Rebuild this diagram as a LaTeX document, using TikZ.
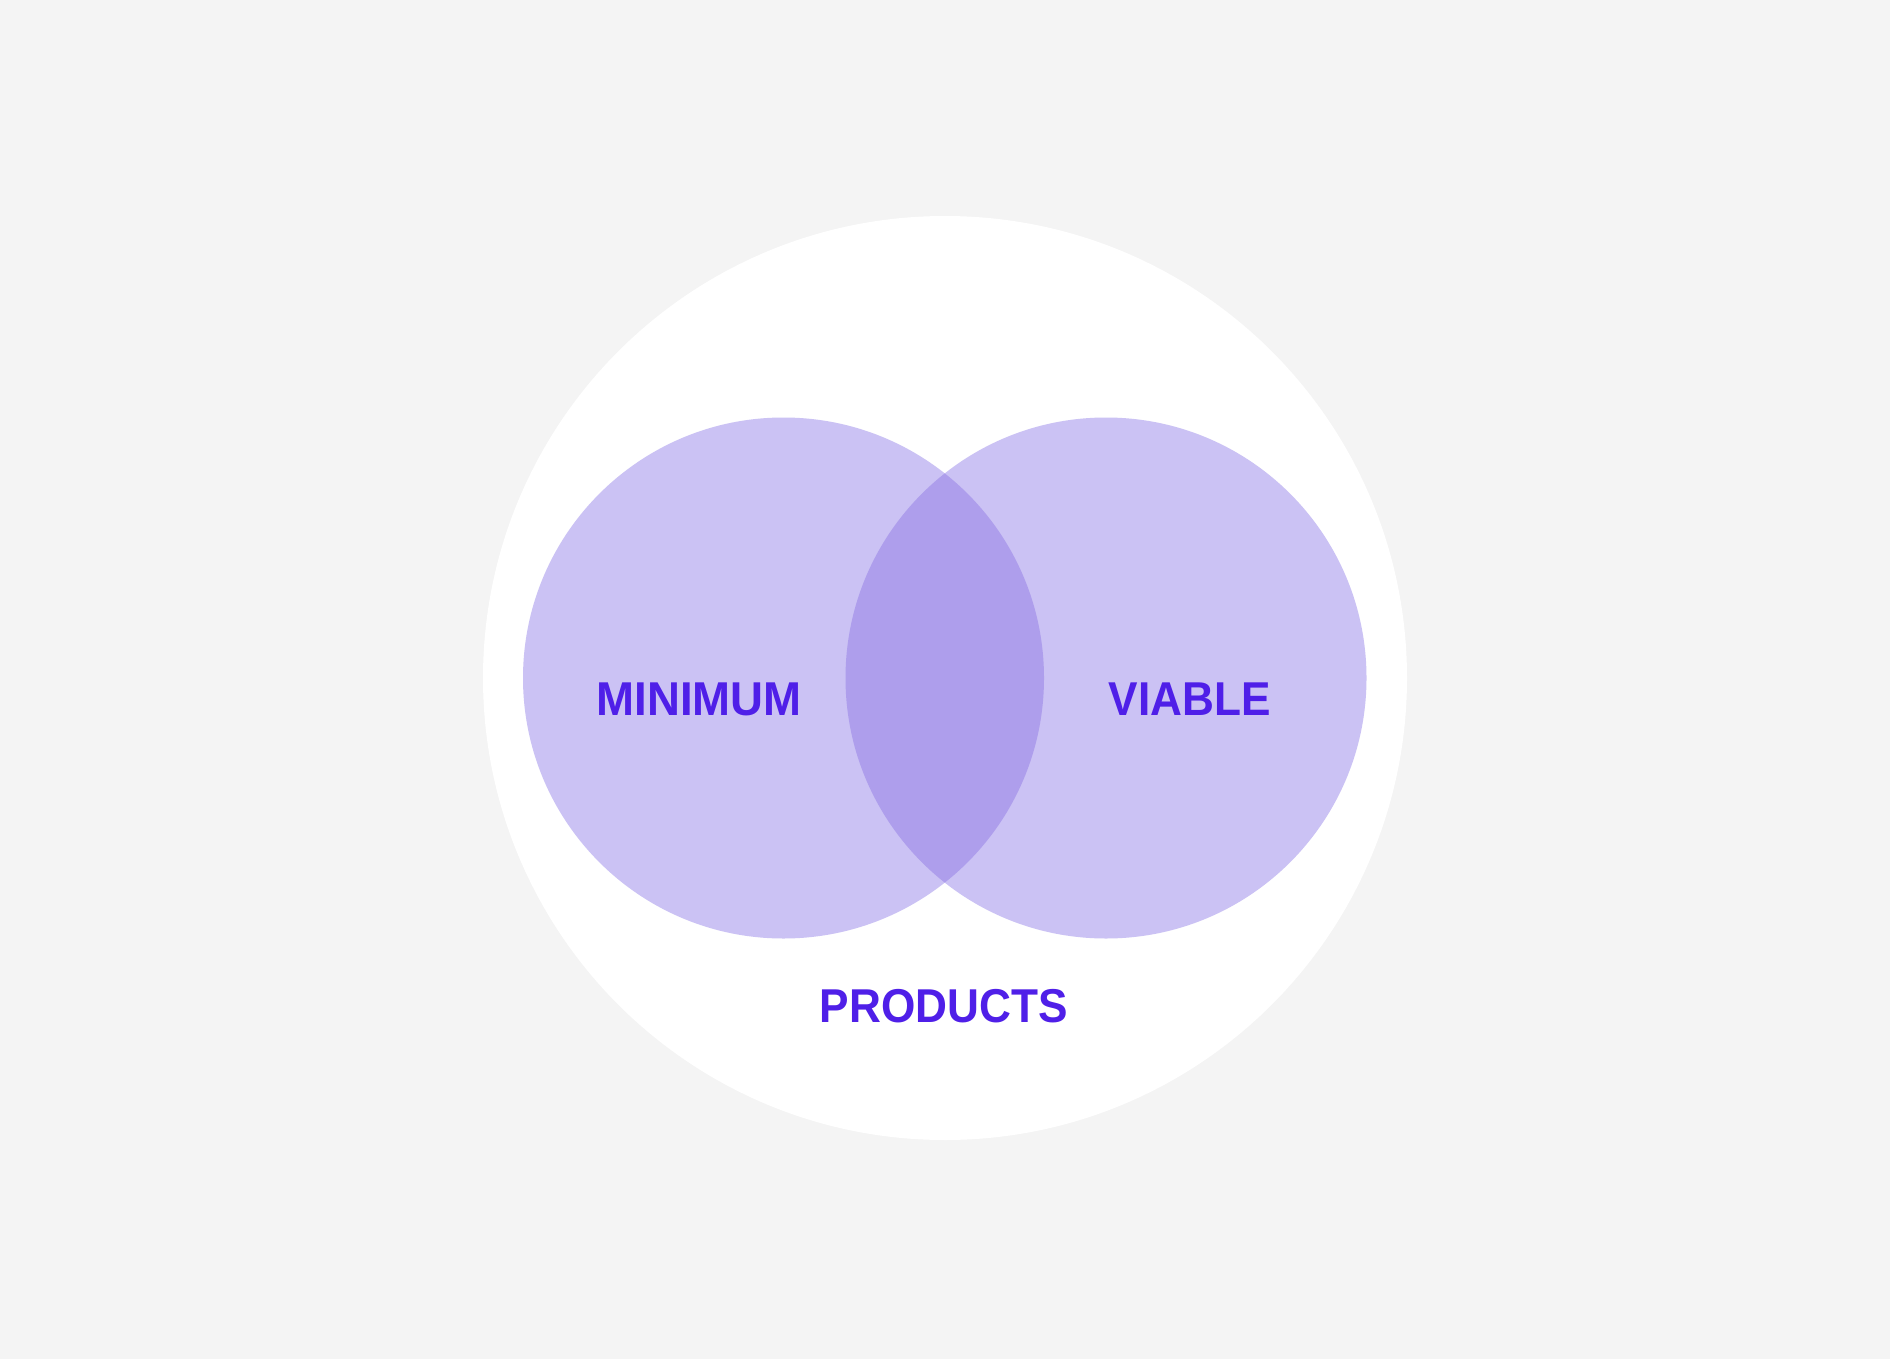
\documentclass[tikz,border=0pt]{standalone}
\usepackage{fontspec}
\usepackage{graphicx}
\setmainfont{Liberation Sans}
\definecolor{bgcol}{HTML}{F4F4F4}
\definecolor{circlecol}{HTML}{CBC2F4}
\definecolor{overlapcol}{HTML}{AE9EEC}
\definecolor{textcol}{HTML}{4F1FE8}
\tikzset{
  lbl/.style={inner sep=0pt, outer sep=0pt, anchor=base, text=textcol,
    font=\fontsize{47.5}{50}\selectfont\bfseries},
}
\begin{document}
\begin{tikzpicture}[x=1pt,y=-1pt]
  \fill[bgcol] (0,0) rectangle (1890,1359);
  \useasboundingbox (0,0) rectangle (1890,1359);
  \fill[white] (945,678) circle[radius=462];
  \fill[circlecol] (783.5,678) circle[radius=260.5];
  \fill[circlecol] (1106,678) circle[radius=260.5];
  \begin{scope}
    \clip (783.5,678) circle[radius=260.5];
    \fill[overlapcol] (1106,678) circle[radius=260.5];
  \end{scope}
  \node[lbl] (minimum) at (699.2,715.5) {\scalebox{0.96}[1]{MINIMUM}};
  \node[lbl] (viable) at (1189.7,715.5) {\scalebox{0.93}[1]{VIABLE}};
  \node[lbl] (products) at (943.8,1022) {\scalebox{0.93}[1]{PRODUCTS}};
\end{tikzpicture}
\end{document}
